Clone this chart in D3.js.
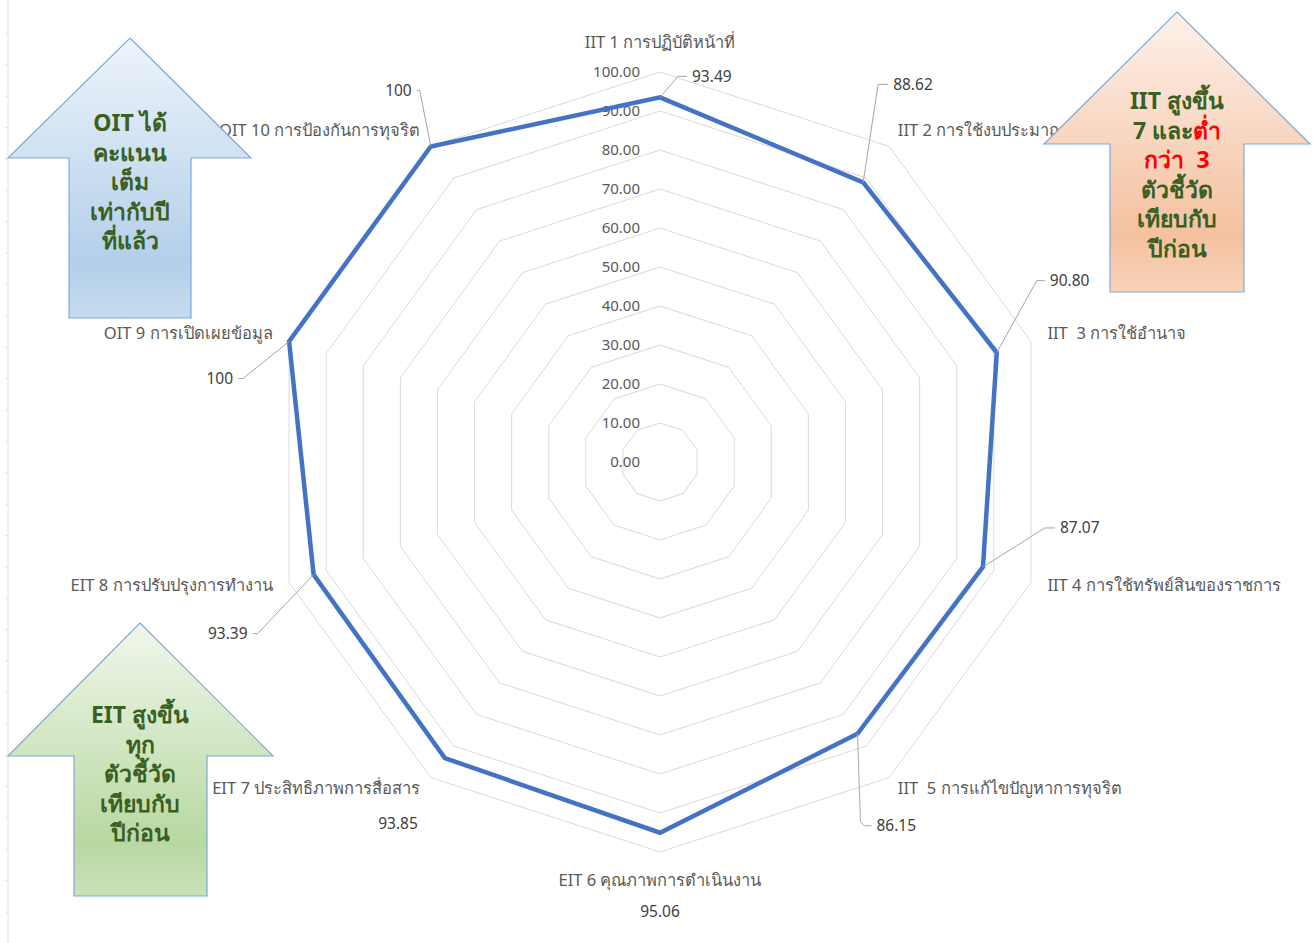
<!DOCTYPE html>
<html>
<head>
<meta charset="utf-8">
<script src="https://cdn.jsdelivr.net/npm/d3@7"></script>
<style>
  body { margin: 0; background: #fff; }
  svg { display: block; font-family: "Noto Sans", "Open Sans", sans-serif; }
  text { white-space: pre; }
</style>
</head>
<body>
<svg id="chart" width="1314" height="943"></svg>
<script>
// Chart data
const categories = [
    "IIT 1 การปฏิบัติหน้าที่",
    "IIT 2 การใช้งบประมาณ",
    "IIT  3 การใช้อำนาจ",
    "IIT 4 การใช้ทรัพย์สินของราชการ",
    "IIT  5 การแก้ไขปัญหาการทุจริต",
    "EIT 6 คุณภาพการดำเนินงาน",
    "EIT 7 ประสิทธิภาพการสื่อสาร",
    "EIT 8 การปรับปรุงการทำงาน",
    "OIT 9 การเปิดเผยข้อมูล",
    "OIT 10 การป้องกันการทุจริต"
];
const scores = [93.49, 88.62, 90.80, 87.07, 86.15, 95.06, 93.85, 93.39, 100, 100];
const scoreLabels = ["93.49", "88.62", "90.80", "87.07", "86.15", "95.06", "93.85", "93.39", "100", "100"];
const ringValues = [10, 20, 30, 40, 50, 60, 70, 80, 90, 100];
const tickValues = [0, 10, 20, 30, 40, 50, 60, 70, 80, 90, 100];

// Callout text (each line is a list of [text, isRed] pieces)
const oitNote = [[["OIT ได้", false]], [["คะแนน", false]], [["เต็ม", false]], [["เท่ากับปี", false]], [["ที่แล้ว", false]]];
const iitNote = [[["IIT สูงขึ้น", false]], [["7 และ", false], ["ต่ำ", true]], [["กว่า  3", true]], [["ตัวชี้วัด", false]], [["เทียบกับ", false]], [["ปีก่อน", false]]];
const eitNote = [[["EIT สูงขึ้น", false]], [["ทุก", false]], [["ตัวชี้วัด", false]], [["เทียบกับ", false]], [["ปีก่อน", false]]];

// Layout
const cx = 660, cy = 462, radius = 390;
const svg = d3.select("#chart");

const r = d3.scaleLinear().domain([0, 100]).range([0, radius]);
const angle = i => i * 2 * Math.PI / categories.length;
const px = (i, v) => cx + r(v) * Math.sin(angle(i));
const py = (i, v) => cy - r(v) * Math.cos(angle(i));

// faint line at the left edge
const edge = d3.scaleLinear().domain([0, 29]).range([33, 943]);
svg.append("g")
    .attr("transform", "translate(8,0)")
    .call(d3.axisLeft(edge).ticks(29).tickSize(3).tickFormat(""))
    .call(g => g.selectAll("line, path").attr("stroke", "#e3e3e3"))
    .call(g => g.select(".domain").attr("d", "M0,0V943"));

const g = svg.append("g").attr("transform", `translate(${cx},${cy})`);

// grid rings
const ringLine = d3.lineRadial()
    .angle((d, i) => angle(i))
    .radius(d => r(d))
    .curve(d3.curveLinearClosed);

g.selectAll(".ring")
    .data(ringValues)
    .enter().append("path")
    .attr("class", "ring")
    .attr("d", v => ringLine(categories.map(() => v)))
    .attr("fill", "none")
    .attr("stroke", "#d9d9d9")
    .attr("stroke-width", 1);

// value axis labels
g.selectAll(".tick-label")
    .data(tickValues)
    .enter().append("text")
    .attr("class", "tick-label")
    .attr("x", -20)
    .attr("y", v => -r(v))
    .attr("dy", "0.35em")
    .attr("text-anchor", "end")
    .attr("font-size", 15)
    .attr("fill", "#595959")
    .text(v => v.toFixed(2));

// data series
g.append("path")
    .attr("d", ringLine(scores))
    .attr("fill", "none")
    .attr("stroke", "#4472c4")
    .attr("stroke-width", 4.5)
    .attr("stroke-linejoin", "miter");

// category labels: placed on a circle, nudged like the original
const catR = 420;
const catNudge = [[0, 0], [-9, 8], [-12, 1], [-12, -7], [-9, -14], [0, 0], [7, -14], [12, -7], [12, 1], [7, 8]];
svg.selectAll(".cat")
    .data(categories)
    .enter().append("text")
    .attr("class", "cat")
    .attr("x", (d, i) => cx + catR * Math.sin(angle(i)) + catNudge[i][0])
    .attr("y", (d, i) => cy - catR * Math.cos(angle(i)) + catNudge[i][1] + (i === 5 ? -2 : 0))
    .attr("dy", "0.35em")
    .attr("text-anchor", (d, i) => i === 0 || i === 5 ? "middle" : (i < 5 ? "start" : "end"))
    .attr("font-size", 16.5)
    .attr("fill", "#595959")
    .text(d => d);

// data labels with leader lines (offsets from the point)
const labelOffset = [[32, -21], [30, -98], [53, -72], [77, -39], [19, 92], [0, 79], [-27, 65], [-66, 59], [-56, 37], [-19, -56]];
const elbowOffset = [[18, -21], [15, -98], [40, -72], [62, -39], [3, 88], null, null, [-56, 59], [-46, 37], [-11, -56]];

scores.forEach((v, i) => {
    const x0 = px(i, v), y0 = py(i, v);
    const lx = x0 + labelOffset[i][0], ly = y0 + labelOffset[i][1];
    const side = labelOffset[i][0] > 0 ? 1 : (labelOffset[i][0] < 0 ? -1 : 0);
    if (elbowOffset[i]) {
        const ex = x0 + elbowOffset[i][0], ey = y0 + elbowOffset[i][1];
        const path = d3.path();
        path.moveTo(x0, y0);
        path.lineTo(ex, ey);
        if (i === 4) path.lineTo(ex + 4, ly);
        path.lineTo(lx - side * 5, ly);
        svg.append("path")
            .attr("d", path.toString())
            .attr("fill", "none")
            .attr("stroke", "#a6a6a6")
            .attr("stroke-width", 1);
    }
    svg.append("text")
        .attr("x", lx)
        .attr("y", ly)
        .attr("dy", "0.35em")
        .attr("text-anchor", side > 0 ? "start" : (side < 0 ? "end" : "middle"))
        .attr("font-size", 15.5)
        .attr("fill", "#404040")
        .text(scoreLabels[i]);
});

// block arrows with notes
const defs = svg.append("defs");
function gradient(id, top, mid, bottom) {
    const lg = defs.append("linearGradient").attr("id", id)
        .attr("x1", 0).attr("y1", 0).attr("x2", 0).attr("y2", 1);
    lg.append("stop").attr("offset", "0%").attr("stop-color", top);
    lg.append("stop").attr("offset", "80%").attr("stop-color", mid);
    lg.append("stop").attr("offset", "100%").attr("stop-color", bottom);
}
gradient("gBlue", "#eef4fb", "#b3cfea", "#c6dbef");
gradient("gOrange", "#fdf1ea", "#f4c19f", "#f8d3bb");
gradient("gGreen", "#f1f7ec", "#b8d8a1", "#c9e1b8");

function blockArrow(box, fill, lines, textTop) {
    // box: tip x, tip y, wing left, wing right, wing y, shaft left, shaft right, bottom
    const [tx, ty, wl, wr, wy, sl, sr, b] = box;
    const p = d3.path();
    p.moveTo(tx, ty);
    p.lineTo(wr, wy);
    p.lineTo(sr, wy);
    p.lineTo(sr, b);
    p.lineTo(sl, b);
    p.lineTo(sl, wy);
    p.lineTo(wl, wy);
    p.closePath();
    svg.append("path")
        .attr("d", p.toString())
        .attr("fill", `url(#${fill})`)
        .attr("stroke", "#7eaadb")
        .attr("stroke-width", 1.2);

    const t = svg.append("text")
        .attr("text-anchor", "middle")
        .attr("font-size", 23)
        .attr("font-weight", "bold")
        .attr("fill", "#3a5f22");
    lines.forEach((parts, k) => {
        const line = t.append("tspan")
            .attr("x", tx)
            .attr("y", textTop + k * 29.5)
            .attr("dy", "0.35em");
        parts.forEach(([s, red]) => {
            line.append("tspan").attr("fill", red ? "#ff0000" : null).text(s);
        });
    });
}

blockArrow([130, 38, 8, 251, 158, 69, 191, 318], "gBlue", oitNote, 123);
blockArrow([1177, 12, 1044, 1310, 144, 1110, 1244, 292], "gOrange", iitNote, 101);
blockArrow([140, 623, 8, 273, 756, 74, 207, 896], "gGreen", eitNote, 715);
</script>
</body>
</html>
